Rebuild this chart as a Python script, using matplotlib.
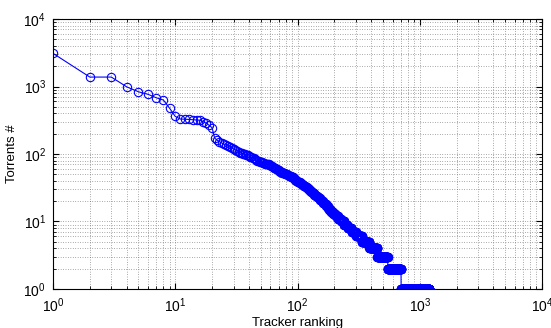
import numpy as np
import matplotlib
matplotlib.use("Agg")
import matplotlib.pyplot as plt

plt.rcParams["font.family"] = ["Liberation Sans", "DejaVu Sans"]
plt.rcParams["mathtext.fontset"] = "custom"
plt.rcParams["mathtext.rm"] = "Liberation Sans"

# torrents tracked by the top-ranked trackers, one value per tracker
top_counts = [3100, 1380, 1380, 990, 835, 765, 680, 630, 475, 360,
              330, 328, 325, 322, 320, 316, 300, 285, 265, 245,
              172, 160, 152, 146, 140, 136, 131, 127, 123, 119,
              116, 112, 108, 105, 103, 101, 99, 97, 95, 93,
              91, 89, 88, 86, 84, 82, 80, 79, 77, 76,
              75, 74, 73, 72, 72, 71, 70, 70, 69, 68]

# remaining trackers: torrent count and how many trackers share it
tail_counts = [67, 66, 64, 63, 62, 61, 60, 59, 58, 57, 56, 55,
               54, 53, 52, 51, 50, 49, 48, 47, 46, 45, 44, 43, 42,
               41, 40, 39, 38, 37, 36, 35, 34, 33, 32, 31, 30, 29, 28,
               27, 26, 25, 24, 23, 22, 21, 20, 19, 18, 17, 16, 15,
               14, 13, 12, 11, 10, 9, 8, 7, 6, 5, 4, 3, 2, 1]
tail_trackers = [1, 1, 1, 1, 1, 1, 1, 1, 1, 1, 1, 1,
                 2, 2, 2, 2, 2, 2, 2, 2, 2, 2, 1, 1, 1,
                 2, 2, 2, 3, 2, 3, 2, 3, 2, 3, 2, 3, 2, 3,
                 3, 4, 4, 4, 4, 4, 5, 4, 5, 5, 5, 5, 6,
                 8, 9, 10, 12, 14, 16, 20, 25, 35, 51, 62, 97, 156, 497]

counts = np.concatenate([top_counts, np.repeat(tail_counts, tail_trackers)])
ranks = np.arange(1, len(counts) + 1)

fig = plt.figure(figsize=(5.51, 3.28), dpi=100)
ax = fig.add_axes([0.0962, 0.119, 0.8875, 0.823])
ax.loglog(ranks, counts, "-o", color="blue", markerfacecolor="none",
          markersize=6, markeredgewidth=0.8, linewidth=0.8)

ax.set_xlim(1, 1e4)
ax.set_ylim(1, 1e4)
ax.grid(True, which="both", linestyle=(0, (1, 2.5)), color="0.35", linewidth=0.5)
ax.tick_params(which="both", direction="in", top=True, right=True, labelsize=10)
ax.tick_params(which="major", length=4, pad=5)
ax.tick_params(which="minor", length=2)
for s in ax.spines.values():
    s.set_linewidth(0.8)
ax.set_xlabel("Tracker ranking", fontsize=9.5, labelpad=2)
ax.set_ylabel("Torrents #", fontsize=9.5, labelpad=4)

fig.savefig("out.png", dpi=100)
